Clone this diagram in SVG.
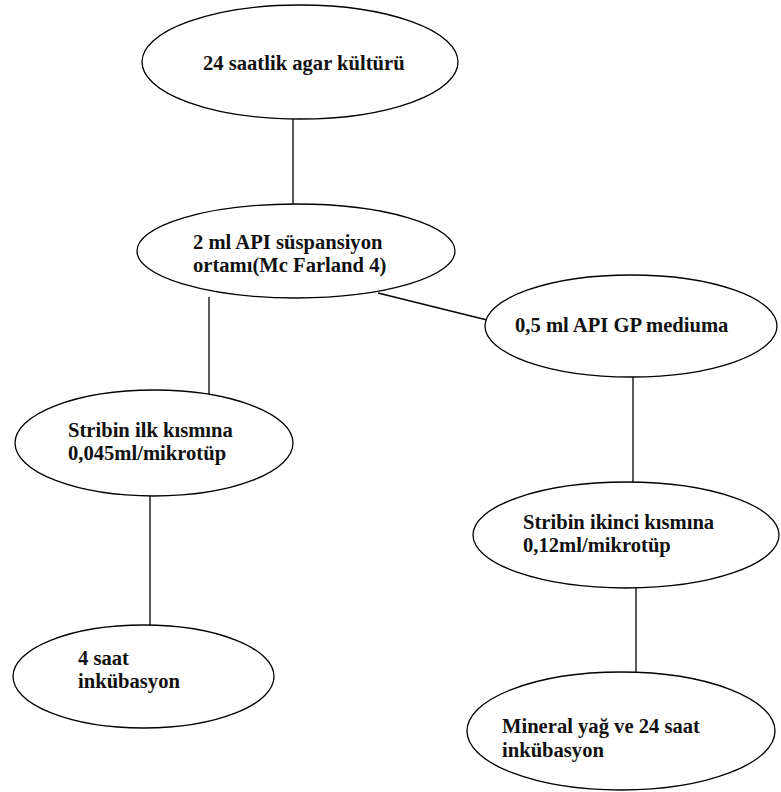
<svg xmlns="http://www.w3.org/2000/svg" width="781" height="792" viewBox="0 0 781 792">
<style>
.node ellipse{fill:#fff;stroke:#000;stroke-width:1.3}
.node text{font-family:'Liberation Serif','Times New Roman','DejaVu Serif',serif;font-weight:bold;font-size:20.6px;fill:#111}
.conn line{stroke:#000;stroke-width:1.3}
</style>
<rect width="781" height="792" fill="#fff"/>
<g id="connectors" class="conn">
<line x1="293" y1="119" x2="293" y2="205"/>
<line x1="209" y1="297" x2="209" y2="395"/>
<line x1="378" y1="293" x2="487" y2="320"/>
<line x1="150" y1="496" x2="150" y2="625"/>
<line x1="633" y1="377" x2="633" y2="482"/>
<line x1="636" y1="588" x2="636" y2="672"/>
</g>
<g id="n1" class="node"><ellipse cx="300" cy="62" rx="158" ry="57"/><text x="203" y="70">24 saatlik agar kültürü</text></g>
<g id="n2" class="node"><ellipse cx="296" cy="251" rx="159" ry="47"/><text x="193" y="249">2 ml API süspansiyon</text><text x="193" y="272">ortamı(Mc Farland 4)</text></g>
<g id="n3" class="node"><ellipse cx="631" cy="326" rx="146" ry="51"/><text x="515" y="332">0,5 ml API GP mediuma</text></g>
<g id="n4" class="node"><ellipse cx="154" cy="443" rx="139" ry="53"/><text x="68" y="437">Stribin ilk kısmına</text><text x="68" y="460">0,045ml/mikrotüp</text></g>
<g id="n5" class="node"><ellipse cx="626" cy="535" rx="153" ry="53"/><text x="523" y="529">Stribin ikinci kısmına</text><text x="523" y="552">0,12ml/mikrotüp</text></g>
<g id="n6" class="node"><ellipse cx="143.5" cy="676.5" rx="130.5" ry="51.5"/><text x="78" y="665">4 saat</text><text x="78" y="688">inkübasyon</text></g>
<g id="n7" class="node"><ellipse cx="621" cy="731" rx="154" ry="59"/><text x="502" y="733">Mineral yağ ve 24 saat</text><text x="502" y="757">inkübasyon</text></g>
</svg>
